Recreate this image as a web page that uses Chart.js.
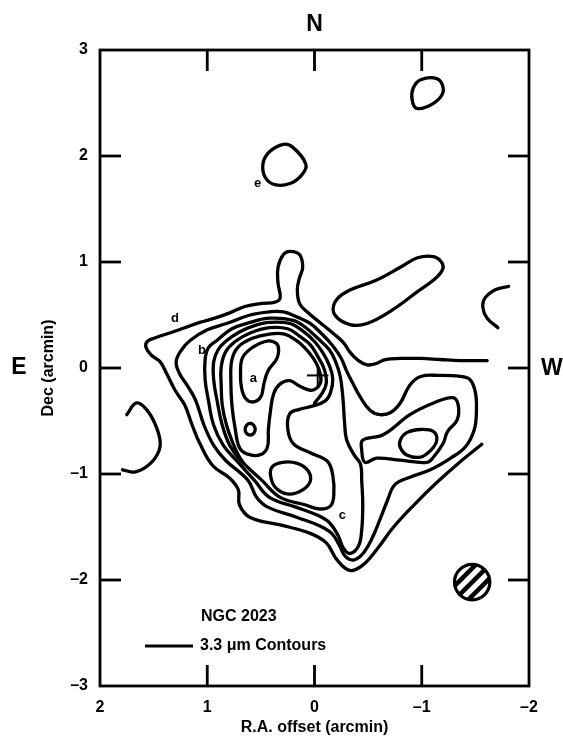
<!DOCTYPE html>
<html>
<head>
<meta charset="utf-8">
<title>NGC 2023 - 3.3 μm contours</title>
<script src="https://cdn.jsdelivr.net/npm/chart.js@4.4.1/dist/chart.umd.min.js"></script>
<style>
  html, body { margin: 0; padding: 0; background: #fff; }
  #wrap { width: 563px; height: 745px; }
</style>
</head>
<body>
<div id="wrap"><canvas id="map" width="563" height="745"></canvas></div>
<script>
// Offsets in arcmin: [R.A., Dec] for every contour line

// outermost level, runs off the mapped area on the west side
const contourD = [
  [-1.61, 0.07], [-1.36, 0.07], [-1.17, 0.08], [-0.99, 0.09], [-0.80, 0.09], [-0.66, 0.08],
  [-0.57, 0.04], [-0.49, 0.03], [-0.41, 0.07], [-0.33, 0.15], [-0.27, 0.24], [-0.17, 0.33],
  [-0.05, 0.43], [0.07, 0.53], [0.14, 0.61], [0.16, 0.74], [0.14, 0.85], [0.11, 0.95],
  [0.14, 1.07], [0.23, 1.10], [0.29, 1.07], [0.34, 0.95], [0.34, 0.80], [0.32, 0.66],
  [0.37, 0.62], [0.49, 0.61], [0.65, 0.58], [0.79, 0.52], [0.93, 0.47], [1.07, 0.43],
  [1.21, 0.38], [1.35, 0.33], [1.47, 0.29], [1.56, 0.25], [1.57, 0.19], [1.52, 0.12],
  [1.44, 0.06], [1.38, -0.05], [1.30, -0.21], [1.21, -0.35], [1.14, -0.54], [1.07, -0.71],
  [0.95, -0.92], [0.79, -1.04], [0.71, -1.15], [0.70, -1.29], [0.60, -1.41], [0.32, -1.48],
  [0.04, -1.56], [-0.11, -1.65], [-0.21, -1.81], [-0.33, -1.91], [-0.45, -1.86], [-0.59, -1.70],
  [-0.73, -1.51], [-0.92, -1.30], [-1.13, -1.09], [-1.34, -0.90], [-1.56, -0.72]
];

// second level, takes in the western lobe
const contourB = [
  [1.29, 0.06], [1.24, 0.17], [1.16, 0.26], [1.00, 0.36], [0.82, 0.42], [0.60, 0.50],
  [0.42, 0.53], [0.29, 0.53], [0.16, 0.48], [0.04, 0.42], [-0.07, 0.32], [-0.17, 0.21],
  [-0.25, 0.09], [-0.30, -0.03], [-0.35, -0.13], [-0.43, -0.28], [-0.52, -0.40], [-0.61, -0.44],
  [-0.71, -0.42], [-0.80, -0.33], [-0.89, -0.16], [-0.99, -0.08], [-1.17, -0.07], [-1.36, -0.08],
  [-1.45, -0.11], [-1.50, -0.23], [-1.51, -0.40], [-1.49, -0.58], [-1.41, -0.74], [-1.27, -0.85],
  [-1.08, -0.96], [-0.89, -1.03], [-0.75, -1.10], [-0.68, -1.25], [-0.61, -1.43], [-0.54, -1.60],
  [-0.46, -1.74], [-0.37, -1.81], [-0.29, -1.78], [-0.23, -1.67], [-0.16, -1.56], [-0.05, -1.49],
  [0.16, -1.41], [0.44, -1.31], [0.54, -1.22], [0.62, -1.06], [0.83, -0.87], [0.94, -0.73],
  [1.03, -0.54], [1.11, -0.30], [1.19, -0.16], [1.26, -0.05]
];

const contour3 = [
  [0.77, 0.37], [0.60, 0.43], [0.42, 0.47], [0.20, 0.45], [0.08, 0.38], [-0.03, 0.28],
  [-0.14, 0.17], [-0.20, 0.05], [-0.24, -0.08], [-0.26, -0.23], [-0.27, -0.35], [-0.28, -0.51],
  [-0.30, -0.68], [-0.37, -0.82], [-0.43, -0.91], [-0.44, -1.06], [-0.45, -1.29], [-0.44, -1.53],
  [-0.41, -1.68], [-0.33, -1.75], [-0.27, -1.70], [-0.22, -1.58], [-0.14, -1.46], [-0.03, -1.39],
  [0.18, -1.31], [0.42, -1.22], [0.56, -1.06], [0.73, -0.87], [0.85, -0.73], [0.94, -0.54],
  [0.99, -0.30], [1.02, -0.11], [1.02, 0.08], [0.99, 0.19], [0.91, 0.26]
];

const contour4 = [
  [0.83, 0.25], [0.70, 0.34], [0.56, 0.40], [0.42, 0.43], [0.23, 0.42], [0.11, 0.35],
  [0.00, 0.25], [-0.08, 0.14], [-0.14, 0.02], [-0.17, -0.10], [-0.15, -0.23], [-0.10, -0.31],
  [0.02, -0.36], [0.14, -0.39], [0.23, -0.43], [0.25, -0.57], [0.20, -0.71], [0.04, -0.80],
  [-0.12, -0.88], [-0.17, -1.01], [-0.18, -1.20], [-0.15, -1.30], [-0.05, -1.33], [0.09, -1.29],
  [0.32, -1.22], [0.49, -1.06], [0.69, -0.87], [0.79, -0.73], [0.86, -0.54], [0.91, -0.30],
  [0.94, -0.11], [0.94, 0.06], [0.90, 0.17]
];

// joins level 4 at both ends
const contour5 = [
  [0.00, -0.33], [-0.07, -0.24], [-0.11, -0.14], [-0.09, -0.01], [-0.03, 0.11], [0.04, 0.22],
  [0.14, 0.30], [0.25, 0.37], [0.42, 0.38], [0.60, 0.33], [0.74, 0.25], [0.83, 0.15],
  [0.87, 0.01], [0.87, -0.16], [0.86, -0.35], [0.82, -0.54], [0.76, -0.71], [0.71, -0.82],
  [0.66, -0.90]
];

const contour6 = [
  [0.77, 0.08], [0.71, 0.20], [0.58, 0.28], [0.42, 0.32], [0.28, 0.32], [0.17, 0.26],
  [0.09, 0.19], [0.01, 0.09], [-0.04, -0.01], [-0.06, -0.12], [-0.02, -0.19], [0.04, -0.21],
  [0.14, -0.17], [0.23, -0.12], [0.32, -0.15], [0.38, -0.24], [0.41, -0.40], [0.43, -0.58],
  [0.44, -0.75], [0.51, -0.82], [0.63, -0.81], [0.70, -0.75], [0.74, -0.57], [0.77, -0.35],
  [0.78, -0.11]
];

const peakA = [
  [0.67, 0.10], [0.57, 0.20], [0.46, 0.25], [0.39, 0.25], [0.34, 0.21], [0.35, 0.09],
  [0.43, -0.02], [0.47, -0.14], [0.50, -0.27], [0.57, -0.32], [0.64, -0.29], [0.68, -0.19],
  [0.69, -0.04]
];

const knotA = [
  [0.553, -0.58], [0.567, -0.54], [0.60, -0.523], [0.633, -0.54], [0.647, -0.58],
  [0.633, -0.617], [0.60, -0.633], [0.567, -0.617]
];

const knotSouth = [
  [0.40, -0.94], [0.30, -0.89], [0.16, -0.90], [0.06, -0.97], [0.04, -1.07], [0.11, -1.15],
  [0.23, -1.19], [0.34, -1.15], [0.40, -1.06]
];

const lobeWest = [
  [-0.45, -0.68], [-0.64, -0.63], [-0.89, -0.44], [-1.11, -0.33], [-1.29, -0.28], [-1.34, -0.35],
  [-1.33, -0.49], [-1.24, -0.60], [-1.20, -0.71], [-1.11, -0.84], [-1.05, -0.89], [-0.80, -0.87],
  [-0.58, -0.85], [-0.47, -0.89], [-0.44, -0.77]
];

const lobeWestPeak = [
  [-0.80, -0.68], [-0.86, -0.61], [-0.99, -0.58], [-1.11, -0.60], [-1.14, -0.68], [-1.09, -0.77],
  [-0.99, -0.84], [-0.86, -0.82], [-0.80, -0.75]
];

const ridgeNW = [
  [-1.19, 0.99], [-1.11, 1.05], [-0.96, 1.04], [-0.80, 0.95], [-0.58, 0.83], [-0.30, 0.72],
  [-0.19, 0.62], [-0.19, 0.50], [-0.33, 0.41], [-0.49, 0.42], [-0.73, 0.55], [-0.96, 0.72],
  [-1.11, 0.83], [-1.19, 0.92]
];

const clumpE = [
  [0.29, 2.11], [0.20, 2.08], [0.08, 1.92], [0.12, 1.82], [0.23, 1.74], [0.37, 1.73],
  [0.46, 1.80], [0.48, 1.93], [0.42, 2.04]
];

const clumpNW = [
  [-0.99, 2.72], [-1.14, 2.73], [-1.20, 2.64], [-1.17, 2.55], [-1.06, 2.47], [-0.95, 2.45],
  [-0.91, 2.53], [-0.92, 2.64]
];

const arcEast = [
  [1.75, -0.44], [1.66, -0.33], [1.56, -0.40], [1.47, -0.57], [1.44, -0.74], [1.52, -0.89],
  [1.67, -0.98], [1.79, -0.96]
];

const arcWest = [
  [-1.81, 0.77], [-1.69, 0.74], [-1.59, 0.66], [-1.57, 0.57], [-1.61, 0.47], [-1.71, 0.38]
];

// source letters
const labelText = ['a', 'b', 'c', 'd', 'e'];
const labelRa = [0.57, 1.05, -0.26, 1.30, 0.53];
const labelDec = [-0.10, 0.17, -1.39, 0.47, 1.74];

// reference position and beam
const crossCenter = [-0.03, -0.07];
const crossArm = 0.1;
const beamCenter = [-1.47, -2.02];
const beamRadius = 0.165;

const raTicks = [2, 1, 0, -1, -2];
const decTicks = [3, 2, 1, 0, -1, -2, -3];

const FONT = '"Liberation Sans", Arial, Helvetica, sans-serif';
const INK = '#000';

function lineSet(pts, closed, width) {
  // closed loops get one point of overlap at each end so the spline runs smoothly through the seam;
  // the two extra end segments are left invisible
  const src = closed ? [pts[pts.length - 1], ...pts, pts[0], pts[1]] : pts;
  const last = src.length - 1;
  const ds = {
    data: src.map(p => ({ x: p[0], y: p[1] })),
    showLine: true,
    pointRadius: 0,
    borderColor: INK,
    borderWidth: width || 3.3,
    tension: 0.4,
    borderCapStyle: 'round',
    borderJoinStyle: 'round',
    fill: false
  };
  if (closed) {
    ds.segment = {
      borderColor: c => (c.p0DataIndex === 0 || c.p1DataIndex === last) ? 'rgba(0,0,0,0)' : INK
    };
  }
  return ds;
}

const datasets = [
  lineSet(contourD, false),
  lineSet(contourB, true),
  lineSet(contour3, true),
  lineSet(contour4, true),
  lineSet(contour5, false),
  lineSet(contour6, true),
  lineSet(peakA, true),
  lineSet(knotA, true),
  lineSet(knotSouth, true),
  lineSet(lobeWest, true),
  lineSet(lobeWestPeak, true),
  lineSet(ridgeNW, true),
  lineSet(clumpE, true),
  lineSet(clumpNW, true),
  lineSet(arcEast, false),
  lineSet(arcWest, false)
];

// the "+" marker
const crossH = [[crossCenter[0] - crossArm, crossCenter[1]], [crossCenter[0] + crossArm, crossCenter[1]]];
const crossV = [[crossCenter[0], crossCenter[1] + crossArm], [crossCenter[0], crossCenter[1] - crossArm]];
datasets.push(Object.assign(lineSet(crossH, false, 2), { tension: 0, borderCapStyle: 'butt' }));
datasets.push(Object.assign(lineSet(crossV, false, 2), { tension: 0, borderCapStyle: 'butt' }));

const fmt = v => (v < 0 ? '\u2013' + Math.abs(v) : String(v));

// frame with inward ticks, letters, beam and the key
const decorations = {
  id: 'decorations',
  afterDraw(chart) {
    const { ctx, chartArea: a, scales: { x, y } } = chart;
    ctx.save();
    ctx.strokeStyle = INK;
    ctx.fillStyle = INK;
    ctx.lineWidth = 2.8;
    ctx.lineCap = 'butt';
    ctx.strokeRect(a.left, a.top, a.right - a.left, a.bottom - a.top);

    const tick = 21;
    const seg = (x0, y0, x1, y1) => { ctx.beginPath(); ctx.moveTo(x0, y0); ctx.lineTo(x1, y1); ctx.stroke(); };
    raTicks.slice(1, -1).forEach(v => {
      const px = x.getPixelForValue(v);
      seg(px, a.top, px, a.top + tick);
      seg(px, a.bottom, px, a.bottom - tick);
    });
    decTicks.slice(1, -1).forEach(v => {
      const py = y.getPixelForValue(v);
      seg(a.left, py, a.left + tick, py);
      seg(a.right, py, a.right - tick, py);
    });

    // letters on the clumps
    ctx.font = 'bold 13px ' + FONT;
    ctx.textAlign = 'center';
    ctx.textBaseline = 'middle';
    labelText.forEach((t, i) => {
      ctx.fillText(t, x.getPixelForValue(labelRa[i]), y.getPixelForValue(labelDec[i]));
    });

    // beam: hatched circle
    const cx = x.getPixelForValue(beamCenter[0]);
    const cy = y.getPixelForValue(beamCenter[1]);
    const r = Math.abs(x.getPixelForValue(beamCenter[0] + beamRadius) - cx);
    ctx.save();
    ctx.beginPath();
    ctx.arc(cx, cy, r, 0, Math.PI * 2);
    ctx.clip();
    ctx.lineWidth = 4.5;
    const d = Math.SQRT1_2;
    [-0.55, 0, 0.55].forEach(k => {
      const ox = cx + k * r * d, oy = cy + k * r * d;
      seg(ox - 1.3 * r * d, oy + 1.3 * r * d, ox + 1.3 * r * d, oy - 1.3 * r * d);
    });
    ctx.restore();
    ctx.lineWidth = 3.2;
    ctx.beginPath();
    ctx.arc(cx, cy, r, 0, Math.PI * 2);
    ctx.stroke();

    // key
    ctx.font = 'bold 16px ' + FONT;
    ctx.textAlign = 'left';
    ctx.textBaseline = 'middle';
    ctx.fillText('NGC 2023', 201, 617);
    ctx.lineWidth = 2.8;
    seg(145, 646, 193, 646);
    ctx.fillText('3.3 \u03bcm Contours', 200, 646);

    // compass points
    ctx.font = 'bold 23px ' + FONT;
    ctx.textAlign = 'center';
    ctx.fillText('N', (a.left + a.right) / 2, 25);
    ctx.fillText('E', 19, (a.top + a.bottom) / 2);
    ctx.textAlign = 'left';
    ctx.fillText('W', 541, (a.top + a.bottom) / 2 + 1);
    ctx.restore();
  }
};

const axisFont = { family: FONT, size: 16, weight: 'bold' };
const titleFont = { family: FONT, size: 16, weight: 'bold' };

new Chart(document.getElementById('map'), {
  type: 'scatter',
  data: { datasets },
  options: {
    responsive: false,
    animation: false,
    events: [],
    layout: { padding: { top: 50, right: 34, left: 0, bottom: 0 } },
    plugins: { legend: { display: false }, tooltip: { enabled: false } },
    scales: {
      x: {
        type: 'linear',
        min: -2,
        max: 2,
        reverse: true,
        grid: { display: false, drawTicks: false },
        border: { display: false },
        ticks: { stepSize: 1, padding: 12, color: INK, font: axisFont, callback: fmt },
        title: { display: true, text: 'R.A. offset (arcmin)', color: INK, font: titleFont, padding: { top: 0, bottom: 8 } },
        afterFit(s) { s.height = 59; }
      },
      y: {
        type: 'linear',
        min: -3,
        max: 3,
        grid: { display: false, drawTicks: false },
        border: { display: false },
        ticks: { stepSize: 1, padding: 12, color: INK, font: axisFont, callback: fmt },
        title: { display: true, text: 'Dec (arcmin)', color: INK, font: titleFont, padding: { top: 39, bottom: 0 } },
        afterFit(s) { s.width = 100; }
      }
    }
  },
  plugins: [decorations]
});
</script>
</body>
</html>
